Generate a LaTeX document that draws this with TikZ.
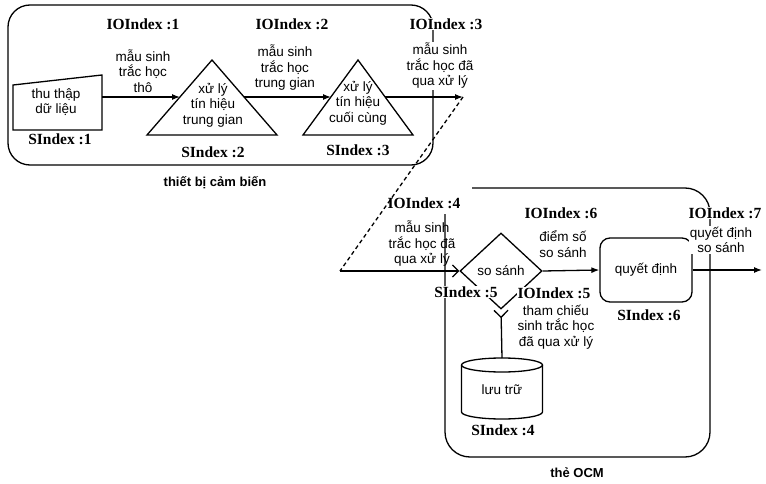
\documentclass[tikz,border=0pt]{standalone}
\usepackage{fontspec}
\setmainfont{Liberation Sans}
\newfontfamily\serifidx{Liberation Serif}
\usetikzlibrary{arrows.meta,shapes.geometric}
\begin{document}
\begin{tikzpicture}[x=1pt,y=-1pt,line width=1.3pt,
  txt/.style={font=\fontsize{13.5}{15.5}\selectfont, align=center, inner sep=1pt},
  capt/.style={font=\bfseries\fontsize{13}{15}\selectfont, inner sep=1pt},
  idx/.style={font=\serifidx\bfseries\fontsize{15.5}{17}\selectfont, inner sep=1pt},
  opaque/.style={fill=white},
  flow/.style={-{Latex[length=8pt,width=6pt]}},
  barb/.style={-{Straight Barb[length=6pt,width=12pt]}},
  ybarb/.style={-{Straight Barb[reversed,length=7pt,width=14pt]}}]
\useasboundingbox (0,0) rectangle (766,484);

% sensor device frame
\draw[rounded corners=22pt] (8,5) rectangle (433,165);
\node[capt] (devcap) at (215,183) {thiết bị cảm biến};

% data capture (manual input shape)
\draw (13,85) -- (102,75) -- (102,130) -- (13,130) -- cycle;
\coordinate (acqR) at (102,97);
\node[txt] (acq) at (56,102) {thu thập\\dữ liệu};
\node[idx] (s1) at (60,139) {SIndex :1};

% intermediate signal processing
\draw (147,135) -- (212,60) -- (277,135) -- cycle;
\coordinate (t1L) at (180,97);
\coordinate (t1R) at (244,97);
\node[txt] (proc1) at (213,105) {xử lý\\tín hiệu\\trung gian};
\node[idx] (s2) at (213,152) {SIndex :2};

% final signal processing
\draw (303,135) -- (358,60) -- (413,135) -- cycle;
\coordinate (t2L) at (331,97);
\coordinate (t2R) at (385,97);
\node[txt] (proc2) at (358,103) {xử lý\\tín hiệu\\cuối cùng};
\node[idx] (s3) at (358,150) {SIndex :3};

% OCM card frame (open at the upper left corner)
\draw[rounded corners=25pt] (472,188) -- (710,188) -- (710,457) -- (445,457) -- (445,214);
\node[capt] (cardcap) at (577,473) {thẻ OCM};

% comparison
\node[draw, diamond, minimum width=82pt, minimum height=76pt, txt, inner sep=0pt] (cmp) at (501,271) {so sánh};
% decision
\node[draw, rounded corners=10pt, minimum width=92pt, minimum height=64pt, txt] (dec) at (646,270) {quyết định};
\node[idx] (s6) at (649,315) {SIndex :6};

% storage cylinder
\draw (461.5,365) -- (461.5,412) arc[start angle=180, end angle=0, x radius=40.5, y radius=7] -- (542.5,365);
\draw (502,365) ellipse[x radius=40.5, y radius=7];
\coordinate (storeTop) at (502,358);
\node[txt] (store) at (502,390) {lưu trữ};
\node[idx] (s4) at (503,430) {SIndex :4};

% transfer points
\coordinate (sendTop) at (463,97);
\coordinate (recvBot) at (340,271);
\coordinate (outEnd) at (762,270);

% connectors
\draw[flow] (acqR) -- (t1L);
\draw[flow] (t1R) -- (t2L);
\draw[flow] (t2R) -- (sendTop);
\draw[dashed, dash pattern=on 4pt off 3pt] (sendTop) -- (recvBot);
\draw[barb] (recvBot) -- (cmp.west);
\draw[flow] (cmp.east) -- (dec.west);
\draw[flow] (dec.east) -- (outEnd);
\draw[ybarb] (storeTop) -- (cmp.south);

% interface labels
\node[idx, opaque] (io1) at (143,24) {IOIndex :1};
\node[txt] (d1) at (143,71) {mẫu sinh\\trắc học\\thô};
\node[idx, opaque] (io2) at (292,24) {IOIndex :2};
\node[txt] (d2) at (285,68) {mẫu sinh\\trắc học\\trung gian};
\node[idx, opaque] (io3) at (446,24) {IOIndex :3};
\node[txt, opaque] (d3) at (440,66) {mẫu sinh\\trắc học đã\\qua xử lý};
\node[idx] (io4) at (424,203) {IOIndex :4};
\node[txt] (d4) at (422,244) {mẫu sinh\\trắc học đã\\qua xử lý};
\node[idx, opaque] (s5) at (466,292) {SIndex :5};
\node[idx, opaque] (io5) at (554,293) {IOIndex :5};
\node[txt, opaque] (d5) at (556,327) {tham chiếu\\sinh trắc học\\đã qua xử lý};
\node[idx, opaque] (io6) at (561,213) {IOIndex :6};
\node[txt, opaque] (d6) at (563,244) {điểm số\\so sánh};
\node[idx, opaque] (io7) at (725,213) {IOIndex :7};
\node[txt, opaque] (d7) at (721,240) {quyết định\\so sánh};
\end{tikzpicture}
\end{document}
